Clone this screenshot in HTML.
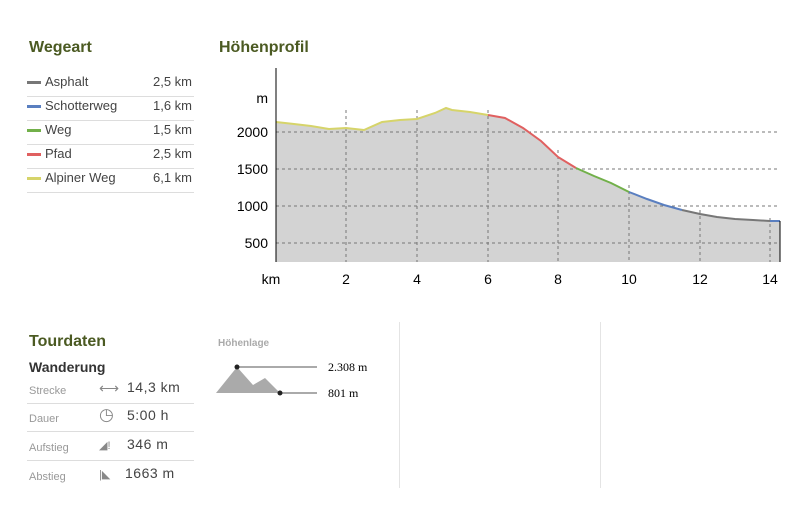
<!DOCTYPE html>
<html><head><meta charset="utf-8"><style>
body{margin:0;width:799px;height:520px;background:#fff;font-family:"Liberation Sans",sans-serif;position:relative;overflow:hidden}
.a{position:absolute}
h2{position:absolute;margin:0;font-size:16px;font-weight:bold;color:#4b5a22}
.row{position:absolute;left:27px;width:167px;height:24px;border-bottom:1px solid #ddd;font-size:13px;color:#444}
.row i{position:absolute;left:0;top:9px;width:14px;height:3px}
.row span{position:absolute;left:18px;top:2px}
.row b{position:absolute;right:2px;top:2px;font-weight:normal}
.tr{position:absolute;left:27px;width:167px;height:28px;border-bottom:1px solid #ddd;font-size:11px;color:#999}
.tr .l{position:absolute;left:2px;top:10px}
.tr .ic{position:absolute;left:72px;top:5px;font-size:14px;color:#888}
.tr .v{position:absolute;left:100px;top:4px;font-size:14px;color:#444;letter-spacing:.5px}
</style></head><body>
<h2 style="left:29px;top:39px">Wegeart</h2>
<h2 style="left:219px;top:39px">Höhenprofil</h2>
<div class="row" style="top:72px"><i style="background:#777"></i><span>Asphalt</span><b>2,5 km</b></div>
<div class="row" style="top:96px"><i style="background:#5a7fc0"></i><span>Schotterweg</span><b>1,6 km</b></div>
<div class="row" style="top:120px"><i style="background:#72b04a"></i><span>Weg</span><b>1,5 km</b></div>
<div class="row" style="top:144px"><i style="background:#e06060"></i><span>Pfad</span><b>2,5 km</b></div>
<div class="row" style="top:168px"><i style="background:#d6d46a"></i><span>Alpiner Weg</span><b>6,1 km</b></div>

<svg class="a" style="left:0;top:0" width="799" height="300" font-family="Liberation Sans,sans-serif" font-size="14">
<path d="M276,122 L294,124 L311,126 L329,129 L346,128 L364,130 L382,122 L400,120 L417,119 L435,113 L446,108 L452,110 L470,112 L488,115 L505,118 L523,128 L541,141 L558,157 L576,168 L594,176 L611,183 L629,192 L647,199 L664,205 L682,210 L700,214 L717,217 L735,219 L753,220 L770,221 L780,221 L780,262 L276,262Z" fill="#d3d3d3"/>
<g stroke="#777" stroke-dasharray="3,3" stroke-width="1">
<line x1="276" y1="132" x2="780" y2="132"/><line x1="276" y1="169" x2="780" y2="169"/><line x1="276" y1="206" x2="780" y2="206"/><line x1="276" y1="243" x2="780" y2="243"/>
<line x1="346" y1="110" x2="346" y2="262"/><line x1="417" y1="110" x2="417" y2="262"/><line x1="488" y1="110" x2="488" y2="262"/><line x1="558" y1="150" x2="558" y2="262"/><line x1="629" y1="185" x2="629" y2="262"/><line x1="700" y1="210" x2="700" y2="262"/><line x1="770" y1="218" x2="770" y2="262"/>
</g>
<g fill="none" stroke-width="2">
<polyline stroke="#d6d46a" points="276,122 294,124 311,126 329,129 346,128 364,130 382,122 400,120 417,119 435,113 446,108 452,110 470,112 488,115"/>
<polyline stroke="#e06060" points="488,115 505,118 523,128 541,141 558,157 576,168"/>
<polyline stroke="#72b04a" points="576,168 594,176 611,183 629,192"/>
<polyline stroke="#5a7fc0" points="629,192 647,199 664,205 682,210"/>
<polyline stroke="#777" points="682,210 700,214 717,217 735,219 753,220 770,221"/>
<polyline stroke="#5a7fc0" points="770,221 780,221"/>
</g>
<line x1="276" y1="68" x2="276" y2="262" stroke="#000"/>
<line x1="780" y1="221" x2="780" y2="262" stroke="#000"/>
<g text-anchor="end"><text x="268" y="103">m</text><text x="268" y="137">2000</text><text x="268" y="174">1500</text><text x="268" y="211">1000</text><text x="268" y="248">500</text></g>
<g text-anchor="middle"><text x="271" y="284">km</text><text x="346" y="284">2</text><text x="417" y="284">4</text><text x="488" y="284">6</text><text x="558" y="284">8</text><text x="629" y="284">10</text><text x="700" y="284">12</text><text x="770" y="284">14</text></g>
</svg>

<h2 style="left:29px;top:333px">Tourdaten</h2>
<div class="a" style="left:29px;top:359px;font-size:14px;font-weight:bold;color:#333">Wanderung</div>
<div class="tr" style="top:375px"><span class="l">Strecke</span><span class="ic">⟷</span><span class="v">14,3 km</span></div>
<div class="tr" style="top:403px"><span class="l">Dauer</span><span class="ic" style="font-size:17px;top:2px">◷</span><span class="v">5:00 h</span></div>
<div class="tr" style="top:432px"><span class="l">Aufstieg</span><span class="ic" style="font-size:11px;top:7px">◢!</span><span class="v">346 m</span></div>
<div class="tr" style="top:461px;border:0"><span class="l">Abstieg</span><span class="ic" style="font-size:11px;top:7px">|◣</span><span class="v" style="left:98px">1663 m</span></div>
<div class="a" style="left:218px;top:338px;font-size:10px;font-weight:bold;color:#aaa">Höhenlage</div>
<svg class="a" style="left:210px;top:360px" width="180" height="45" font-family="Liberation Serif,serif" font-size="12">
<polygon points="6,33 27,7 43,25 55,18 70,33" fill="#aaa"/>
<line x1="27" y1="7" x2="107" y2="7" stroke="#555"/><circle cx="27" cy="7" r="2.5" fill="#222"/>
<line x1="70" y1="33" x2="107" y2="33" stroke="#555"/><circle cx="70" cy="33" r="2.5" fill="#222"/>
<text x="118" y="11">2.308 m</text><text x="118" y="37">801 m</text>
</svg>
<div class="a" style="left:399px;top:322px;width:1px;height:166px;background:#e4e4e4"></div>
<div class="a" style="left:600px;top:322px;width:1px;height:166px;background:#e4e4e4"></div>
</body></html>
